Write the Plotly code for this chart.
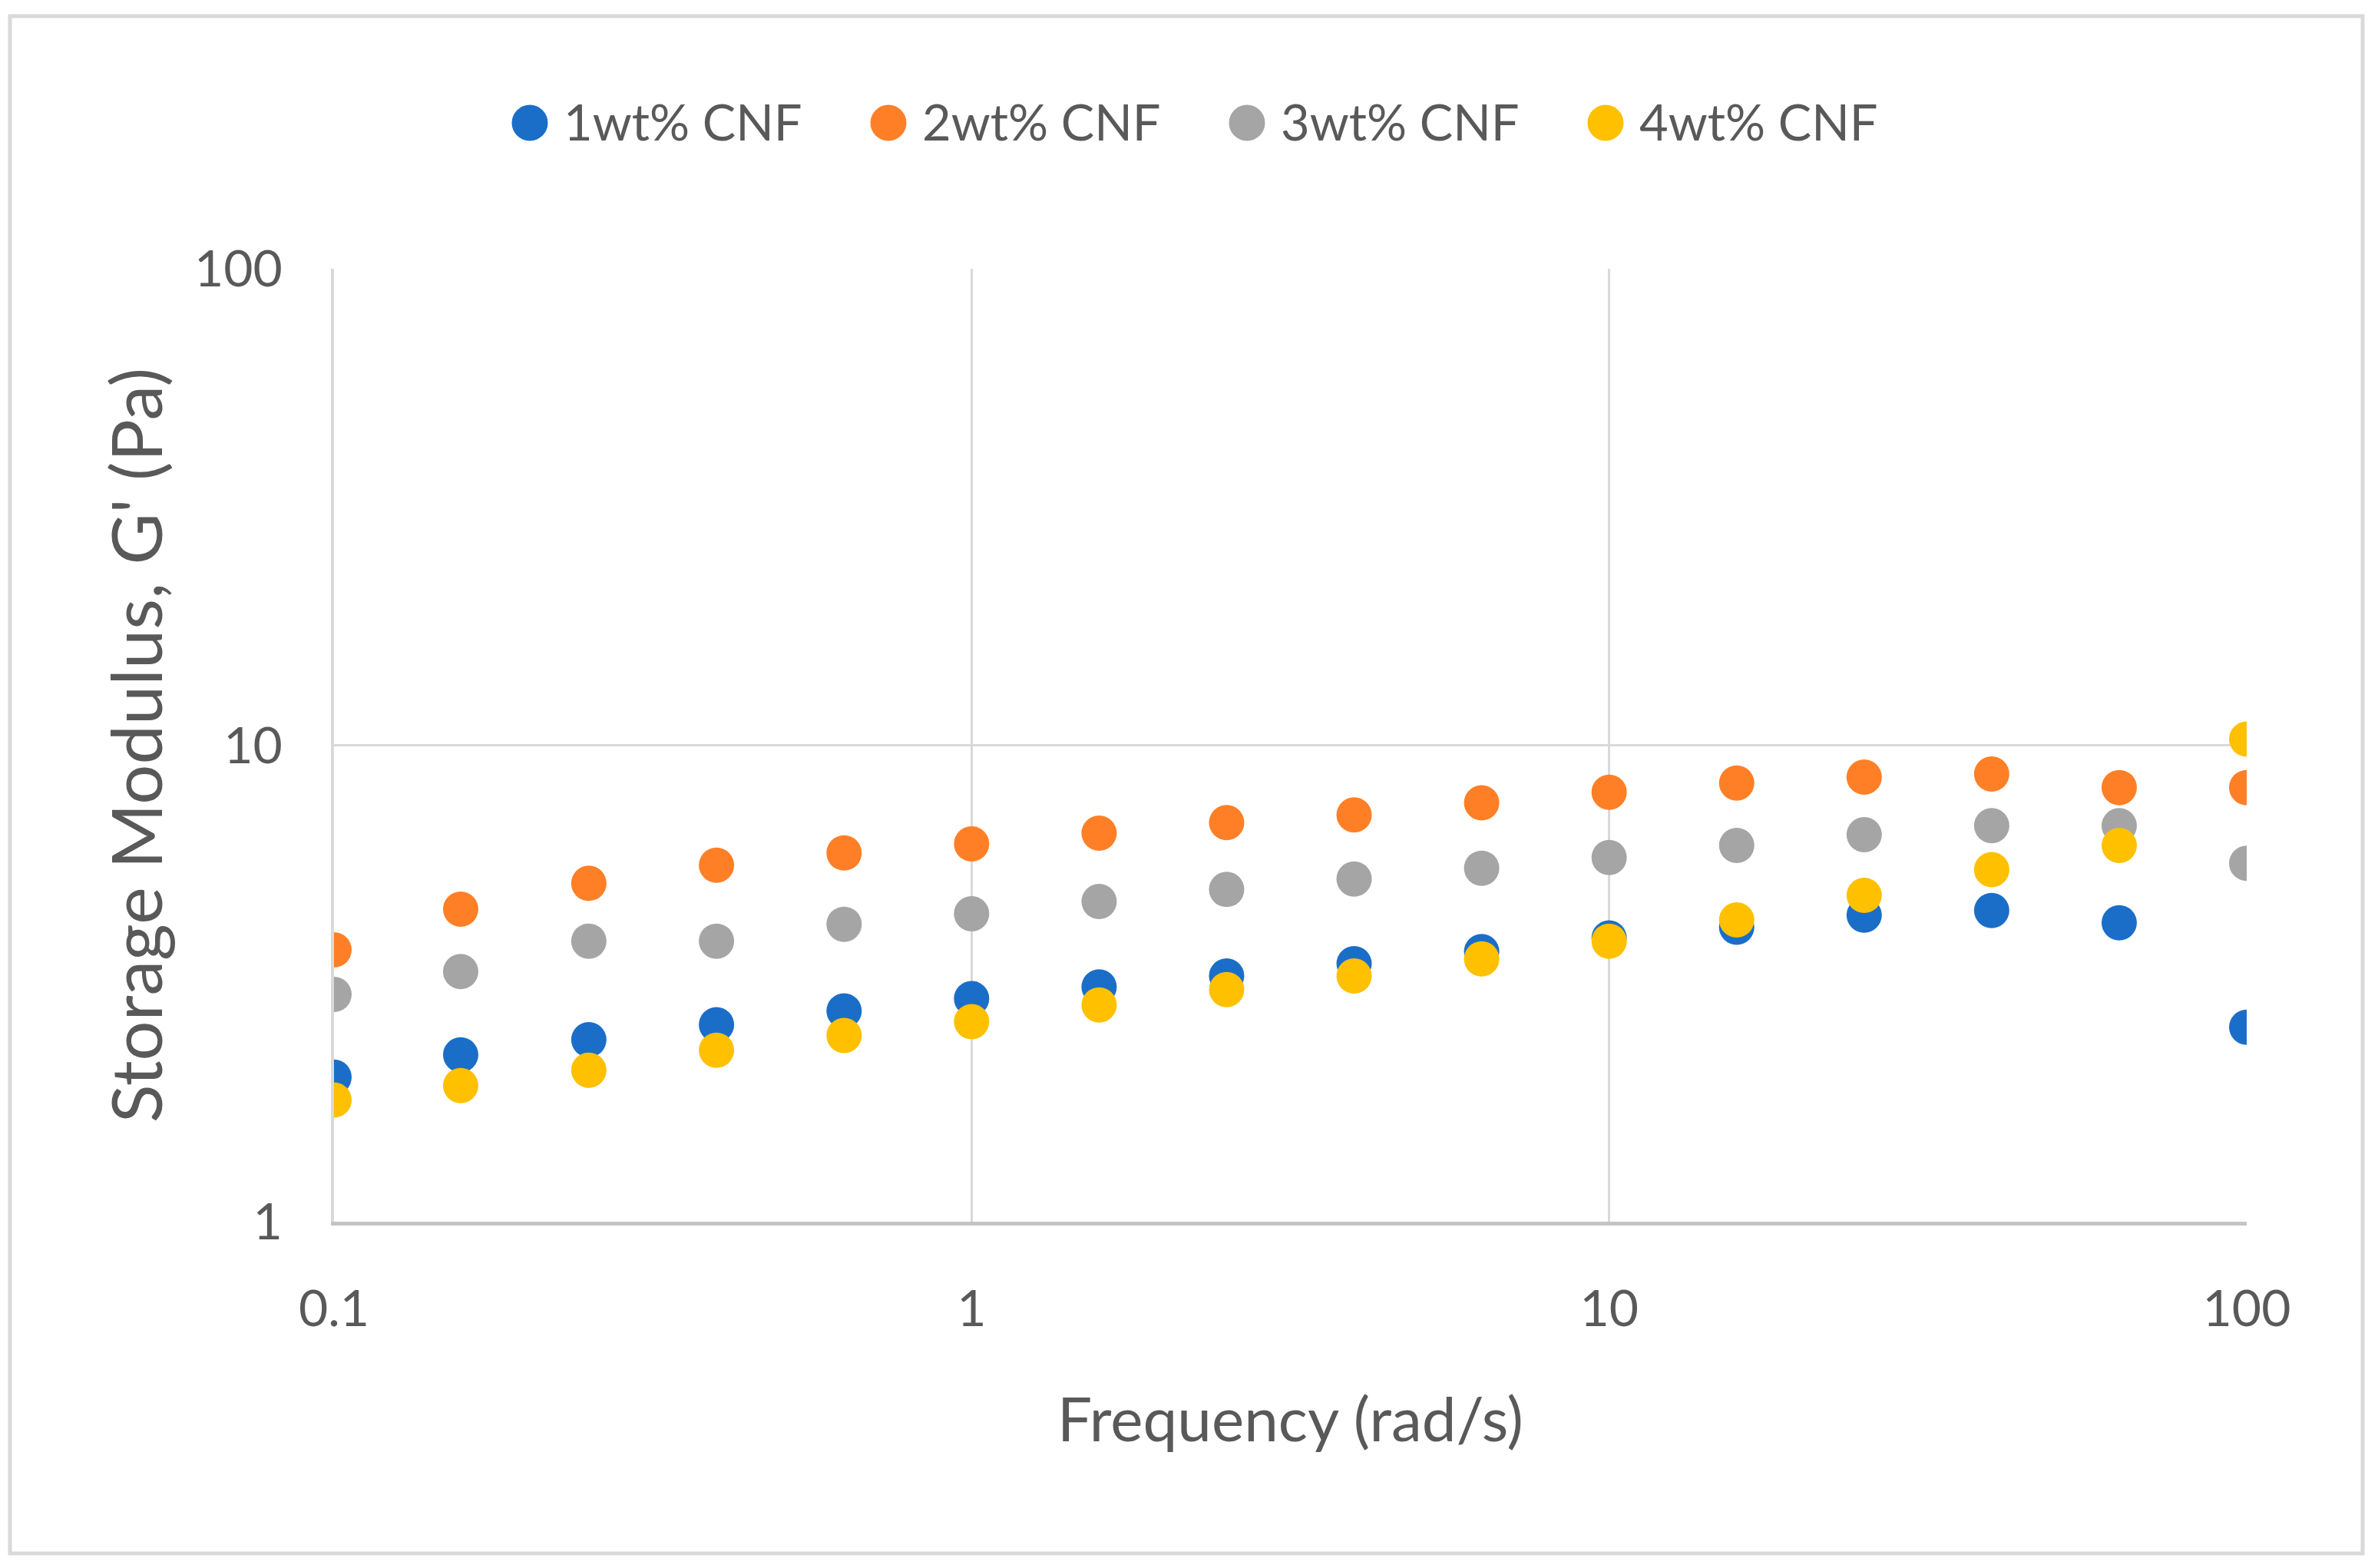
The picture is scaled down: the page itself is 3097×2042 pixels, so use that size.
import plotly.graph_objects as go

# Data
frequency = [0.1, 0.158, 0.251, 0.398, 0.631, 1.0, 1.585, 2.512, 3.981, 6.31,
             10.0, 15.85, 25.12, 39.81, 63.1, 100.0]
cnf_1wt = [2.01, 2.24, 2.41, 2.59, 2.77, 2.94, 3.11, 3.28, 3.48, 3.69,
           3.94, 4.15, 4.40, 4.50, 4.24, 2.56]
cnf_2wt = [3.72, 4.53, 5.13, 5.60, 5.94, 6.21, 6.54, 6.88, 7.14, 7.57,
           7.97, 8.33, 8.57, 8.70, 8.15, 8.15]
cnf_3wt = [3.00, 3.35, 3.88, 3.88, 4.21, 4.43, 4.70, 4.98, 5.24, 5.52,
           5.81, 6.16, 6.49, 6.78, 6.78, 5.65]
cnf_4wt = [1.80, 1.93, 2.08, 2.29, 2.46, 2.63, 2.85, 3.07, 3.28, 3.56,
           3.88, 4.30, 4.84, 5.48, 6.16, 10.3]

series_names = ["1wt% CNF", "2wt% CNF", "3wt% CNF", "4wt% CNF"]
series_values = [cnf_1wt, cnf_2wt, cnf_3wt, cnf_4wt]
series_colors = ["#1B6EC8", "#FF7F27", "#A5A5A5", "#FFC000"]

x_ticks = [0.1, 1, 10, 100]
x_ticktext = ["0.1", "1", "10", "100"]
y_ticks = [1, 10, 100]
y_ticktext = ["1", "10", "100"]

FONT = "Lato"
TEXT = "#595959"
GRID = "#D9D9D9"

# page offset from the browser's default body margin
OFF = 8
W, H = 3097 - 2 * OFF, 2042 - 2 * OFF
PLOT_L, PLOT_R, PLOT_T, PLOT_B = 435, 2926, 350, 1591  # target screen px
ML = PLOT_L - OFF
MT = PLOT_T - OFF
PW = PLOT_R - PLOT_L
PH = PLOT_B - PLOT_T
MR = W - ML - PW
MB = H - MT - PH


def px_x(X):
    return (X - OFF - ML) / PW


def px_y(Y):
    return 1 - (Y - OFF - MT) / PH


fig = go.Figure()
for name, vals, col in zip(series_names, series_values, series_colors):
    fig.add_trace(go.Scatter(
        x=frequency, y=vals, mode="markers", name=name, showlegend=False,
        marker=dict(color=col, size=46, line=dict(width=0)),
    ))

# outer chart border
fig.add_shape(type="rect", xref="paper", yref="paper",
              x0=px_x(13), x1=px_x(3077), y0=px_y(2023), y1=px_y(21),
              line=dict(color="#D9D9D9", width=5), fillcolor="rgba(0,0,0,0)",
              layer="below")

# custom legend (large markers like the original)
LEG_X0, LEG_STEP, LEG_Y, LEG_D = 690, 467, 160, 47
for i, (name, col) in enumerate(zip(series_names, series_colors)):
    cx = LEG_X0 + i * LEG_STEP
    fig.add_shape(type="circle", xref="paper", yref="paper",
                  xsizemode="pixel", ysizemode="pixel",
                  xanchor=px_x(cx), yanchor=px_y(LEG_Y),
                  x0=-LEG_D / 2, x1=LEG_D / 2, y0=-LEG_D / 2, y1=LEG_D / 2,
                  fillcolor=col, line=dict(width=0))
    fig.add_annotation(x=px_x(cx + 42), y=px_y(LEG_Y - 2), xref="paper", yref="paper",
                       xanchor="left", yanchor="middle", showarrow=False,
                       text=name, font=dict(family=FONT, size=65, color=TEXT))

fig.update_layout(
    width=W, height=H,
    margin=dict(l=ML, r=MR, t=MT, b=MB, autoexpand=False),
    paper_bgcolor="white", plot_bgcolor="white",
    font=dict(family=FONT, color=TEXT, size=66),
    showlegend=False,
    xaxis=dict(type="log", range=[-1, 2], tickvals=x_ticks, ticktext=x_ticktext,
               showgrid=True, gridcolor=GRID, gridwidth=3,
               showline=True, linecolor="#C4C4C4", linewidth=5,
               zeroline=False, ticks="outside", ticklen=52, tickcolor="rgba(0,0,0,0)",
               tickfont=dict(size=66, color=TEXT),
               title=dict(text="Frequency (rad/s)", font=dict(size=80, color=TEXT),
                          standoff=82)),
    yaxis=dict(type="log", range=[0, 2], tickvals=y_ticks, ticktext=y_ticktext,
               showgrid=True, gridcolor=GRID, gridwidth=3,
               showline=True, linecolor=GRID, linewidth=4,
               zeroline=False, ticks="outside", ticklen=50, tickcolor="rgba(0,0,0,0)",
               tickfont=dict(size=66, color=TEXT),
               title=dict(text="Storage Modulus, G' (Pa)", font=dict(size=92, color=TEXT),
                          standoff=12)),
)

fig.write_html("out.html")
